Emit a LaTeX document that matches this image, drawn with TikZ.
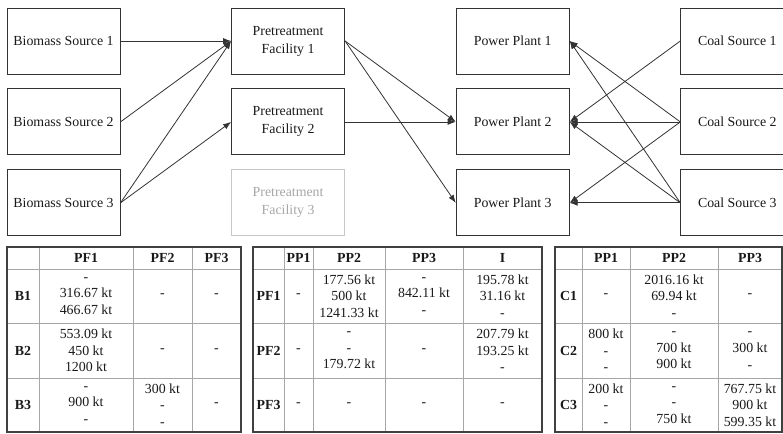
\documentclass[tikz,border=0pt]{standalone}
\usepackage{fontspec}
\setmainfont{Liberation Serif}
\usepackage{tikz}
\usetikzlibrary{positioning,arrows.meta}

\begin{document}
\begin{tikzpicture}[
    x=0.75pt, y=-0.75pt,
    node distance=10.5pt and 83pt,
    box/.style={draw=black!80, line width=0.7pt, rectangle, minimum width=84.75pt, minimum height=49.5pt,
        inner sep=0pt, align=center, text=black!90, font=\fontsize{10.4}{13.5}\selectfont},
    ghost/.style={box, draw=black!22, text=black!35},
    arrow/.style={-{Latex[length=6pt,width=4.5pt]}, draw=black!80, line width=0.6pt},
    cell/.style={inner sep=0pt, align=center, text=black!90, font=\fontsize{10.4}{12.5}\selectfont},
    head/.style={cell, font=\fontsize{10.4}{12.5}\selectfont\bfseries},
    tabline/.style={draw=black!35, line width=0.7pt},
    tabframe/.style={draw=black!75, line width=0.8pt}
]
\useasboundingbox (0,0) rectangle (783,434);
\clip (0,0) rectangle (783,434);

% Sources, facilities and plants
\node[box] (bs1) at (63.5,41) {Biomass Source 1};
\node[box, below=of bs1] (bs2) {Biomass Source 2};
\node[box, below=of bs2] (bs3) {Biomass Source 3};

\node[box, right=of bs1] (pf1) {Pretreatment\\Facility 1};
\node[box, below=of pf1] (pf2) {Pretreatment\\Facility 2};
\node[ghost, below=of pf2] (pf3) {Pretreatment\\Facility 3};

\node[box, right=of pf1] (pp1) {Power Plant 1};
\node[box, below=of pp1] (pp2) {Power Plant 2};
\node[box, below=of pp2] (pp3) {Power Plant 3};

\node[box, right=of pp1] (cs1) {Coal Source 1};
\node[box, below=of cs1] (cs2) {Coal Source 2};
\node[box, below=of cs2] (cs3) {Coal Source 3};

% Biomass flows
\draw[arrow] (bs1.east) -- (pf1.west);
\draw[arrow] (bs2.east) -- (pf1.west);
\draw[arrow] (bs3.east) -- (pf1.west);
\draw[arrow] (bs3.east) -- (pf2.west);

% Pretreated biomass to plants
\draw[arrow] (pf1.east) -- (pp2.west);
\draw[arrow] (pf1.east) -- (pp3.west);
\draw[arrow] (pf2.east) -- (pp2.west);

% Coal flows
\draw[arrow] (cs1.west) -- (pp2.east);
\draw[arrow] (cs2.west) -- (pp1.east);
\draw[arrow] (cs2.west) -- (pp2.east);
\draw[arrow] (cs2.west) -- (pp3.east);
\draw[arrow] (cs3.west) -- (pp1.east);
\draw[arrow] (cs3.west) -- (pp2.east);
\draw[arrow] (cs3.west) -- (pp3.east);

% Table 1: biomass sources to facilities
\foreach \x in {39,133,192} \draw[tabline] (\x,247) -- (\x,432);
\foreach \y in {269,323,378} \draw[tabline] (7,\y) -- (241,\y);
\draw[tabframe] (7,247) rectangle (241,432);
\foreach \x/\t in {86/PF1,162.5/PF2,216.5/PF3}
    \node[head] (ha\t) at (\x,258) {\t};
\foreach \y/\t in {296/B1,350.5/B2,405/B3}
    \node[head] (ra\t) at (23,\y) {\t};
\foreach \x/\y/\t [count=\i] in {
    86/296/{-\\316.67 kt\\466.67 kt}, 162.5/296/-, 216.5/296/-,
    86/350.5/{553.09 kt\\450 kt\\1200 kt}, 162.5/350.5/-, 216.5/350.5/-,
    86/405/{-\\900 kt\\-}, 162.5/405/{300 kt\\-\\-}, 216.5/405/-}
    \node[cell] (va\i) at (\x,\y) {\t};

% Table 2: facilities to plants
\foreach \x in {284,313,385,463} \draw[tabline] (\x,247) -- (\x,432);
\foreach \y in {269,323,378} \draw[tabline] (253,\y) -- (542,\y);
\draw[tabframe] (253,247) rectangle (542,432);
\foreach \x/\t in {298.5/PP1,349/PP2,424/PP3,502.5/I}
    \node[head] (hb\t) at (\x,258) {\t};
\foreach \y/\t in {296/PF1,350.5/PF2,405/PF3}
    \node[head] (rb\t) at (268.5,\y) {\t};
\foreach \x/\y/\t [count=\i] in {
    298.5/296/-, 349/296/{177.56 kt\\500 kt\\1241.33 kt}, 424/296/{-\\842.11 kt\\-}, 502.5/296/{195.78 kt\\31.16 kt\\-},
    298.5/350.5/-, 349/350.5/{-\\-\\179.72 kt}, 424/350.5/-, 502.5/350.5/{207.79 kt\\193.25 kt\\-},
    298.5/405/-, 349/405/-, 424/405/-, 502.5/405/-}
    \node[cell] (vb\i) at (\x,\y) {\t};

% Table 3: coal sources to plants
\foreach \x in {582,630,718} \draw[tabline] (\x,247) -- (\x,432);
\foreach \y in {269,323,378} \draw[tabline] (555,\y) -- (782,\y);
\draw[tabframe] (555,247) rectangle (782,432);
\foreach \x/\t in {606/PP1,674/PP2,750/PP3}
    \node[head] (hc\t) at (\x,258) {\t};
\foreach \y/\t in {296/C1,350.5/C2,405/C3}
    \node[head] (rc\t) at (568.5,\y) {\t};
\foreach \x/\y/\t [count=\i] in {
    606/296/-, 674/296/{2016.16 kt\\69.94 kt\\-}, 750/296/-,
    606/350.5/{800 kt\\-\\-}, 674/350.5/{-\\700 kt\\900 kt}, 750/350.5/{-\\300 kt\\-},
    606/405/{200 kt\\-\\-}, 674/405/{-\\-\\750 kt}, 750/405/{767.75 kt\\900 kt\\599.35 kt}}
    \node[cell] (vc\i) at (\x,\y) {\t};

\end{tikzpicture}
\end{document}
